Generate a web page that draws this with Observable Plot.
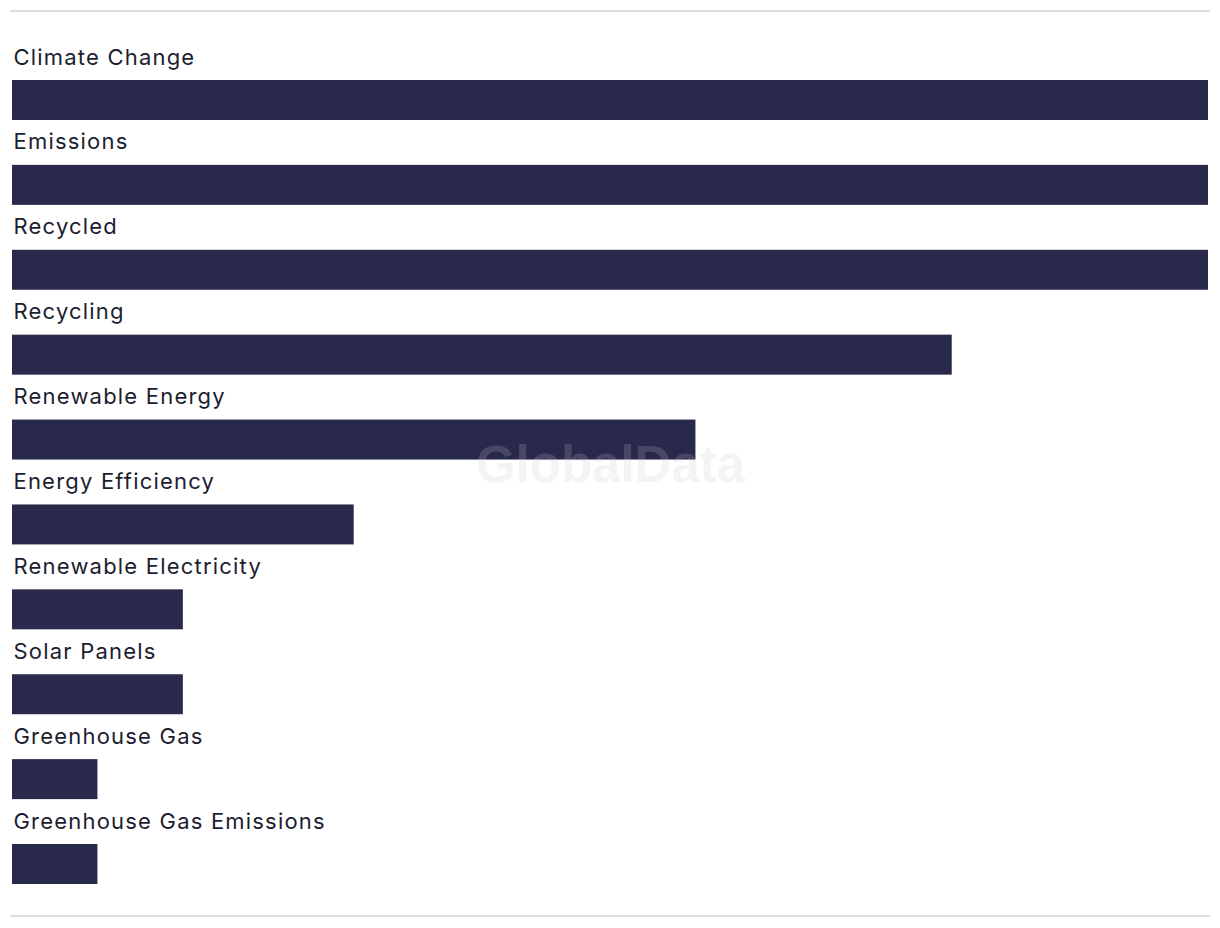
<!DOCTYPE html>
<html>
<head>
<meta charset="utf-8">
<script src="https://cdn.jsdelivr.net/npm/d3@7"></script>
<script src="https://cdn.jsdelivr.net/npm/@observablehq/plot@0.6"></script>
<style>
  html, body { margin: 0; padding: 0; background: #fff; }
  #wrap { position: relative; width: 1220px; height: 928px; }
  .rule { position: absolute; left: 10px; width: 1200px; height: 2px; background: #dddddd; }
  #chart { position: absolute; left: 0; top: 0; }
  #chart svg .lbl, #chart svg .lbl text, #chart svg g[font-size="22"] text { letter-spacing: 1.2px; }
</style>
</head>
<body>
<div id="wrap">
  <div id="chart"></div>
  <div class="rule" style="top:10px"></div>
  <div class="rule" style="top:915px"></div>
</div>
<script>
const categories = [
  "Climate Change", "Emissions", "Recycled", "Recycling", "Renewable Energy",
  "Energy Efficiency", "Renewable Electricity", "Solar Panels",
  "Greenhouse Gas", "Greenhouse Gas Emissions"
];
const values = [14, 14, 14, 11, 8, 4, 2, 2, 1, 1];
const watermark = ["GlobalData"];

const data = categories.map((name, i) => ({name, value: values[i]}));

const chart = Plot.plot({
  width: 1220,
  height: 928,
  margin: 0,
  style: {background: "transparent", fontFamily: "Inter, 'Noto Sans', sans-serif"},
  x: {domain: [0, 14], range: [12, 1208], axis: null},
  y: {domain: categories, range: [80, 884], paddingInner: 0.529, paddingOuter: 0, round: false, axis: null},
  marks: [
    Plot.barX(data, {x: "value", y: "name", fill: "#29294b"}),
    Plot.text(data, {
      x: () => 0, y: "name", text: "name", textAnchor: "start",
      dx: 1, dy: -43, fontSize: 22, fill: "#1d1d30", className: "lbl"
    }),
    Plot.text(watermark, {
      text: d => d, frameAnchor: "middle", dy: 1,
      fontSize: 51, fontWeight: "bold", fontFamily: "'Liberation Sans', Arial, sans-serif",
      fill: "#c8c8cc", fillOpacity: 0.2
    })
  ]
});
d3.select(chart).selectAll("g[font-size='22'] text").style("letter-spacing", "1.2px");
document.getElementById("chart").appendChild(chart);
</script>
</body>
</html>
